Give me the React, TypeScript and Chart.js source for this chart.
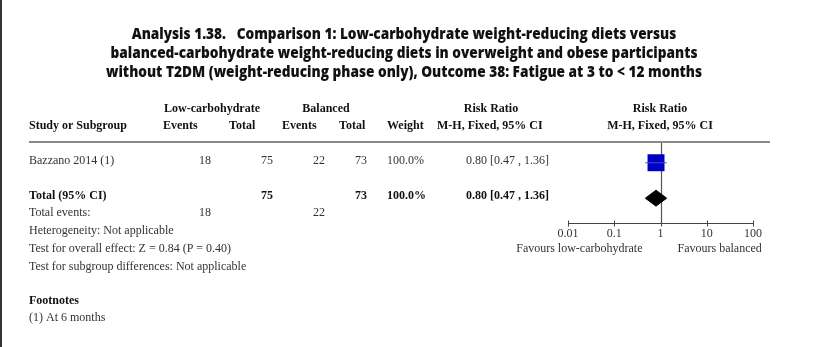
import React, { useEffect, useRef } from "react";
import { Chart, registerables } from "chart.js";

Chart.register(...registerables);

// ---------- data ----------
const titleLines = [
  "Analysis 1.38.   Comparison 1: Low-carbohydrate weight-reducing diets versus",
  "balanced-carbohydrate weight-reducing diets in overweight and obese participants",
  "without T2DM (weight-reducing phase only), Outcome 38: Fatigue at 3 to < 12 months",
];
const studies = ["Bazzano 2014 (1)"];
const lowEvents = [18];
const lowTotals = [75];
const balEvents = [22];
const balTotals = [73];
const weights = [100.0];
const riskRatios = [0.8];
const ciLows = [0.47];
const ciHighs = [1.36];
const pooledRR = [0.8];
const pooledLow = [0.47];
const pooledHigh = [1.36];
const axisTicks = [0.01, 0.1, 1, 10, 100];
const axisTickLabels = ["0.01", "0.1", "1", "10", "100"];
const statLines = [
  "Heterogeneity: Not applicable",
  "Test for overall effect: Z = 0.84 (P = 0.40)",
  "Test for subgroup differences: Not applicable",
];
const footnotes = ["(1) At 6 months"];
const favoursLeft = "Favours low-carbohydrate";
const favoursRight = "Favours balanced";

const sum = (a: number[]) => a.reduce((s, v) => s + v, 0);
const fmtCI = (r: number, l: number, h: number) =>
  `${r.toFixed(2)} [${l.toFixed(2)} , ${h.toFixed(2)}]`;

const SERIF = '"Liberation Serif", "Times New Roman", serif';
const NORMAL = "#333";
const BOLD = "#111";

const textPlugin = {
  id: "forestText",
  beforeDatasetsDraw(chart: any) {
    const { ctx, chartArea, scales } = chart;
    const x = scales.x;
    ctx.save();
    // null line at RR = 1
    ctx.strokeStyle = "#555";
    ctx.lineWidth = 1.2;
    const x1 = Math.round(x.getPixelForValue(1)) + 0.5;
    ctx.beginPath();
    ctx.moveTo(x1, chartArea.top);
    ctx.lineTo(x1, chartArea.bottom);
    ctx.stroke();
    ctx.restore();
  },
  afterDraw(chart: any) {
    const { ctx, chartArea, scales } = chart;
    const x = scales.x;
    ctx.save();

    // left border
    ctx.fillStyle = "#333";
    ctx.fillRect(0, 0, 2, chart.height);

    // title
    ctx.fillStyle = "#111";
    ctx.textAlign = "center";
    ctx.textBaseline = "alphabetic";
    ctx.font = '800 15px "Open Sans", "Noto Sans", sans-serif';
    const w3 = ctx.measureText(titleLines[2]).width;
    const sx = 596 / w3;
    const titleBase = [39, 57.8, 77.3];
    titleLines.forEach((line, i) => {
      ctx.save();
      ctx.translate(404, titleBase[i]);
      ctx.scale(sx, 1);
      ctx.fillText(line, 0, 0);
      ctx.restore();
    });

    // header
    ctx.textBaseline = "middle";
    ctx.fillStyle = BOLD;
    ctx.font = `bold 12px ${SERIF}`;
    ctx.textAlign = "center";
    ctx.fillText("Low-carbohydrate", 212, 108.5);
    ctx.fillText("Balanced", 326, 108.5);
    ctx.fillText("Risk Ratio", 491, 108.5);
    ctx.fillText("Risk Ratio", 660, 108.5);
    ctx.textAlign = "left";
    ctx.fillText("Study or Subgroup", 29, 126);
    ctx.fillText("Events", 163, 126);
    ctx.fillText("Total", 229, 126);
    ctx.fillText("Events", 282, 126);
    ctx.fillText("Total", 339, 126);
    ctx.fillText("Weight", 387, 126);
    ctx.fillText("M-H, Fixed, 95% CI", 437, 126);
    ctx.textAlign = "center";
    ctx.fillText("M-H, Fixed, 95% CI", 660, 126);

    // header rule
    ctx.fillStyle = "#8a8a8a";
    ctx.fillRect(29, 141, 741, 2);

    // study rows
    const rowY = [161];
    ctx.font = `12px ${SERIF}`;
    ctx.fillStyle = NORMAL;
    studies.forEach((s, i) => {
      const yy = rowY[i];
      ctx.textAlign = "left";
      ctx.fillText(s, 29, yy);
      ctx.textAlign = "right";
      ctx.fillText(String(lowEvents[i]), 211, yy);
      ctx.fillText(String(lowTotals[i]), 273, yy);
      ctx.fillText(String(balEvents[i]), 325, yy);
      ctx.fillText(String(balTotals[i]), 367, yy);
      ctx.textAlign = "left";
      ctx.fillText(`${weights[i].toFixed(1)}%`, 387, yy);
      ctx.fillText(fmtCI(riskRatios[i], ciLows[i], ciHighs[i]), 466, yy);
    });

    // total row
    const ty = 195.5;
    ctx.font = `bold 12px ${SERIF}`;
    ctx.fillStyle = BOLD;
    ctx.textAlign = "left";
    ctx.fillText("Total (95% CI)", 29, ty);
    ctx.textAlign = "right";
    ctx.fillText(String(sum(lowTotals)), 273, ty);
    ctx.fillText(String(sum(balTotals)), 367, ty);
    ctx.textAlign = "left";
    ctx.fillText(`${sum(weights).toFixed(1)}%`, 387, ty);
    ctx.fillText(fmtCI(pooledRR[0], pooledLow[0], pooledHigh[0]), 466, ty);

    // total events + stats
    ctx.font = `12px ${SERIF}`;
    ctx.fillStyle = NORMAL;
    ctx.textAlign = "left";
    ctx.fillText("Total events:", 29, 213);
    ctx.textAlign = "right";
    ctx.fillText(String(sum(lowEvents)), 211, 213);
    ctx.fillText(String(sum(balEvents)), 325, 213);
    ctx.textAlign = "left";
    statLines.forEach((l, i) => ctx.fillText(l, 29, 231 + i * 17.7));

    // footnotes
    ctx.font = `bold 12px ${SERIF}`;
    ctx.fillStyle = BOLD;
    ctx.fillText("Footnotes", 29, 301);
    ctx.font = `12px ${SERIF}`;
    ctx.fillStyle = NORMAL;
    footnotes.forEach((f, i) => ctx.fillText(f, 29, 318 + i * 17.7));

    // x axis
    const ay = Math.round(chartArea.bottom) + 0.5;
    ctx.strokeStyle = "#444";
    ctx.lineWidth = 1;
    ctx.beginPath();
    ctx.moveTo(x.getPixelForValue(axisTicks[0]), ay);
    ctx.lineTo(x.getPixelForValue(axisTicks[axisTicks.length - 1]), ay);
    axisTicks.forEach((t) => {
      const px = Math.round(x.getPixelForValue(t)) + 0.5;
      ctx.moveTo(px, ay - 3);
      ctx.lineTo(px, ay + 3);
    });
    ctx.stroke();
    ctx.fillStyle = NORMAL;
    ctx.textAlign = "center";
    axisTicks.forEach((t, i) => {
      ctx.fillText(axisTickLabels[i], x.getPixelForValue(t), ay + 10.5);
    });
    const c = x.getPixelForValue(1);
    ctx.textAlign = "right";
    ctx.fillText(favoursLeft, c - 18, ay + 25.5);
    ctx.textAlign = "left";
    ctx.fillText(favoursRight, c + 17, ay + 25.5);

    ctx.restore();
  },
};

export default function App() {
  const ref = useRef<HTMLCanvasElement | null>(null);
  useEffect(() => {
    if (!ref.current) return;
    const studyRows = studies.map((_, i) => i);
    const totalRow = 2;
    const dh = 0.45;
    const chart = new Chart(ref.current, {
      type: "scatter",
      data: {
        datasets: [
          ...studies.map((_, i) => ({
            type: "line" as const,
            data: [
              { x: ciLows[i], y: studyRows[i] },
              { x: ciHighs[i], y: studyRows[i] },
            ],
            borderColor: "#4a4ab8",
            borderWidth: 1,
            pointRadius: 0,
            fill: false,
          })),
          {
            data: riskRatios.map((r, i) => ({ x: r, y: studyRows[i] })),
            pointStyle: "rect" as const,
            pointRadius: 12,
            pointHoverRadius: 12,
            backgroundColor: "#0000c4",
            borderColor: "#0000c4",
            borderWidth: 0,
          },
          {
            type: "line" as const,
            data: [
              { x: pooledLow[0], y: totalRow },
              { x: pooledRR[0], y: totalRow - dh },
              { x: pooledHigh[0], y: totalRow },
              { x: pooledRR[0], y: totalRow + dh },
              { x: pooledLow[0], y: totalRow },
            ],
            borderColor: "#000",
            backgroundColor: "#000",
            borderWidth: 1,
            pointRadius: 0,
            fill: "shape",
            tension: 0,
          },
        ],
      },
      options: {
        responsive: false,
        animation: false,
        devicePixelRatio: 1,
        layout: { padding: { left: 568, right: 826 - 753, top: 142, bottom: 347 - 223 } },
        scales: {
          x: { type: "logarithmic", min: 0.01, max: 100, display: false },
          y: { type: "linear", min: -1.17, max: 3.4, reverse: true, display: false },
        },
        plugins: {
          legend: { display: false },
          tooltip: { enabled: false },
          title: { display: false },
        },
      },
      plugins: [textPlugin],
    } as any);
    return () => chart.destroy();
  }, []);
  return (
    <div style={{ position: "absolute", left: 0, top: 0, width: 826, height: 347, background: "#fff" }}>
      <canvas ref={ref} width={826} height={347} style={{ display: "block" }} />
    </div>
  );
}
